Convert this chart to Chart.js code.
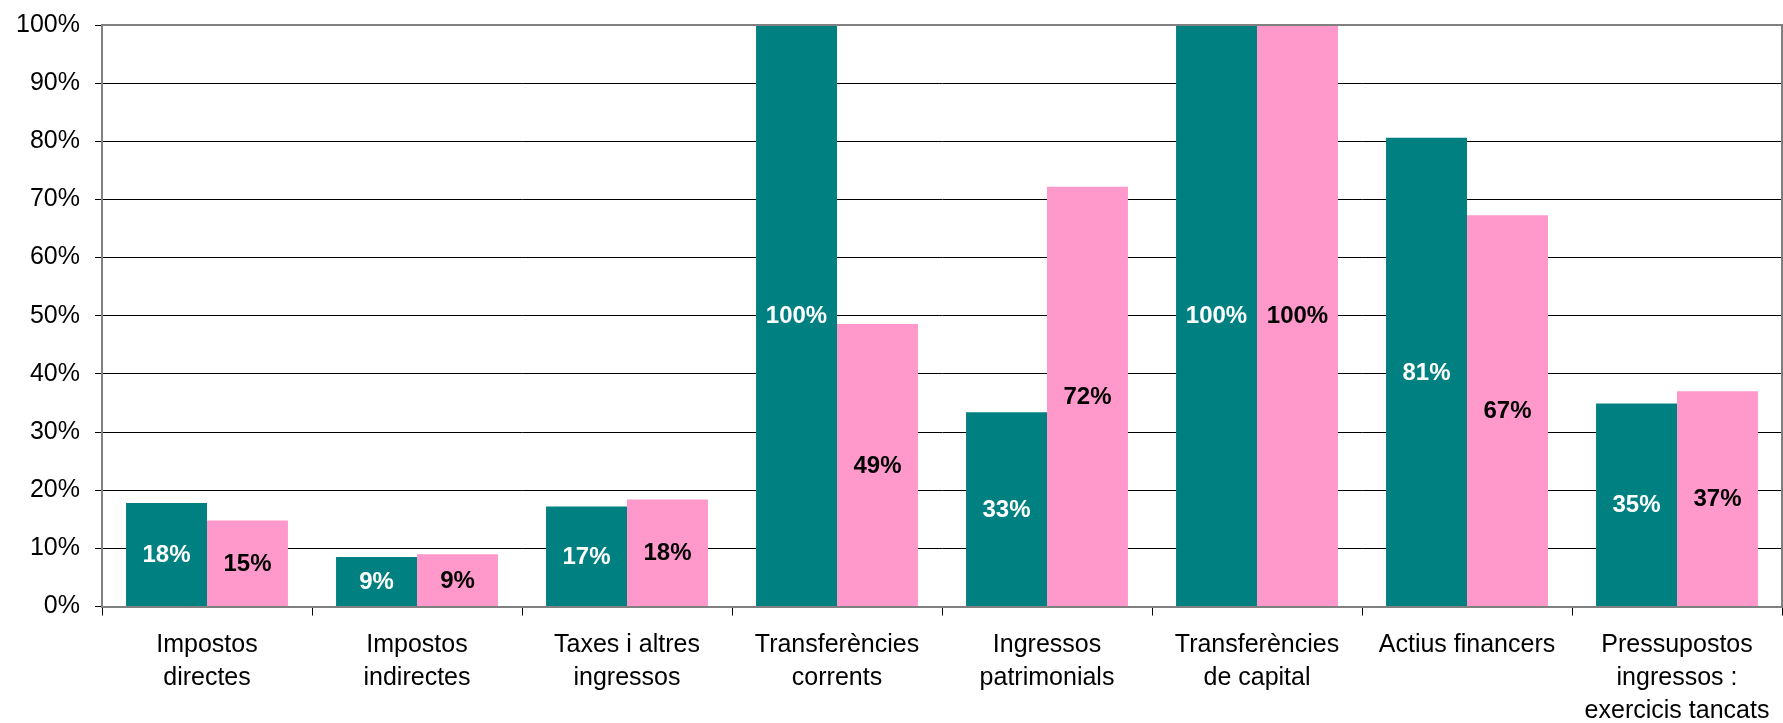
<!DOCTYPE html>
<html>
<head>
<meta charset="utf-8">
<script src="https://cdn.jsdelivr.net/npm/chart.js@4/dist/chart.umd.min.js"></script>
<style>
  html, body { margin: 0; padding: 0; background: #fff; }
  #wrap { width: 1783px; height: 723px; position: relative; }
</style>
</head>
<body>
<div id="wrap"><canvas id="chart"></canvas></div>
<script>
const categories = [
  ["Impostos", "directes"],
  ["Impostos", "indirectes"],
  ["Taxes i altres", "ingressos"],
  ["Transferències", "corrents"],
  ["Ingressos", "patrimonials"],
  ["Transferències", "de capital"],
  ["Actius financers"],
  ["Pressupostos", "ingressos :", "exercicis tancats"]
];
const tealValues = [17.8, 8.5, 17.2, 100, 33.4, 100, 80.6, 34.9];
const pinkValues = [14.8, 9.0, 18.4, 48.6, 72.2, 100, 67.3, 37.0];
const yTicks = [0, 10, 20, 30, 40, 50, 60, 70, 80, 90, 100];

const FONT = "Arial, 'Liberation Sans', sans-serif";

// draws the rounded percentage in the middle of each bar
const barLabels = {
  id: "barLabels",
  afterDatasetsDraw(chart) {
    const ctx = chart.ctx;
    ctx.save();
    ctx.font = `bold 24px ${FONT}`;
    ctx.textAlign = "center";
    ctx.textBaseline = "middle";
    chart.data.datasets.forEach((dataset, i) => {
      chart.getDatasetMeta(i).data.forEach((bar, j) => {
        const mid = (bar.y + bar.base) / 2;
        ctx.fillStyle = dataset.labelColor;
        ctx.fillText(`${Math.round(dataset.data[j])}%`, bar.x, mid + 1);
      });
    });
    ctx.restore();
  }
};

// gray frame around the plot area (top and right sides)
const plotFrame = {
  id: "plotFrame",
  afterDatasetsDraw(chart) {
    const { ctx, chartArea } = chart;
    ctx.save();
    ctx.strokeStyle = "#808080";
    ctx.lineWidth = 2;
    ctx.beginPath();
    ctx.moveTo(chartArea.left, chartArea.top);
    ctx.lineTo(chartArea.right, chartArea.top);
    ctx.lineTo(chartArea.right, chartArea.bottom);
    ctx.stroke();
    ctx.restore();
  }
};

new Chart(document.getElementById("chart"), {
  type: "bar",
  data: {
    labels: categories,
    datasets: [
      {
        data: tealValues,
        backgroundColor: "#008080",
        labelColor: "#ffffff",
        borderWidth: 0,
        categoryPercentage: 0.771,
        barPercentage: 1.0
      },
      {
        data: pinkValues,
        backgroundColor: "#ff99cc",
        labelColor: "#000000",
        borderWidth: 0,
        categoryPercentage: 0.771,
        barPercentage: 1.0
      }
    ]
  },
  options: {
    responsive: true,
    maintainAspectRatio: false,
    animation: false,
    layout: { padding: { top: 23, right: 1, left: 0, bottom: 0 } },
    plugins: {
      legend: { display: false },
      tooltip: { enabled: false }
    },
    scales: {
      x: {
        afterFit: (scale) => { scale.height = 116.5; },
        grid: {
          drawOnChartArea: false,
          drawTicks: true,
          tickLength: 9,
          color: "#000000",
          offset: true
        },
        border: { color: "#808080", width: 2 },
        ticks: {
          color: "#000000",
          padding: 13,
          maxRotation: 0,
          autoSkip: false,
          font: { family: FONT, size: 25, lineHeight: 1.32 }
        }
      },
      y: {
        min: 0,
        max: 100,
        afterFit: (scale) => { scale.width = 102; },
        afterBuildTicks: (scale) => { scale.ticks = yTicks.map((v) => ({ value: v })); },
        grid: {
          color: "#000000",
          lineWidth: 1,
          tickLength: 7,
          drawTicks: true
        },
        border: { color: "#808080", width: 2 },
        ticks: {
          color: "#000000",
          padding: 15,
          callback: (v) => `${v}%`,
          font: { family: FONT, size: 25, lineHeight: 0.8 }
        }
      }
    }
  },
  plugins: [barLabels, plotFrame]
});
</script>
</body>
</html>
